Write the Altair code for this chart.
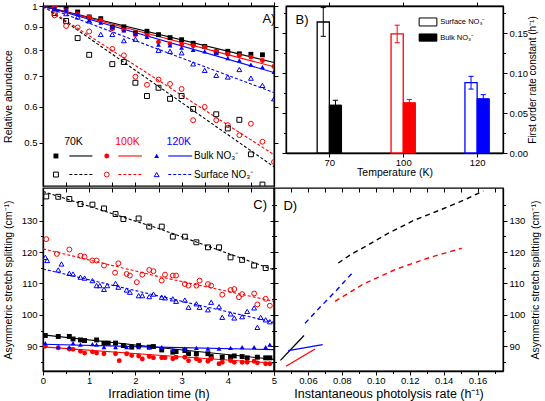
import altair as alt
import pandas as pd

TEMPS = ["70K", "100K", "120K"]
COLORS = ["#000000", "#ff0000", "#0000ff"]
SHAPES = ["square", "circle", "triangle-up"]
NO3 = "NO\u2083\u207b"
INV_H = "(h\u207b\u00b9)"

# ---------------- Panel A : relative abundance (log) vs irradiation time ----------------
A_T_BULK70 = [0.0, 0.25, 0.5, 0.75, 1.0, 1.25, 1.5, 1.75, 2.0, 2.25, 2.5, 2.75, 3.0, 3.25, 3.5, 3.75, 4.0, 4.25, 4.5, 4.75]
A_BULK70 = [1.0, 1.0, 0.995, 0.97, 0.946, 0.938, 0.898, 0.90, 0.872, 0.88, 0.865, 0.852, 0.843, 0.828, 0.815, 0.792, 0.795, 0.785, 0.783, 0.781]
A_T_BULK = [0.0, 0.25, 0.5, 0.75, 1.0, 1.25, 1.5, 1.75, 2.0, 2.25, 2.5, 2.75, 3.0, 3.25, 3.5, 3.75, 4.0, 4.25, 4.5, 4.75, 5.0]
A_BULK100 = [1.0, 0.995, 0.978, 0.96, 0.946, 0.93, 0.891, 0.885, 0.865, 0.862, 0.833, 0.826, 0.823, 0.818, 0.812, 0.795, 0.783, 0.779, 0.772, 0.759, 0.736]
A_BULK120 = [1.0, 0.99, 0.983, 0.962, 0.93, 0.919, 0.899, 0.884, 0.869, 0.855, 0.822, 0.819, 0.81, 0.801, 0.795, 0.788, 0.768, 0.759, 0.743, 0.734, 0.716]

A_T_SURF70 = [0.25, 0.5, 0.75, 1.0, 1.5, 1.75, 2.0, 2.25, 2.5, 2.75, 3.0, 3.25, 3.75, 4.0, 4.25, 4.5, 4.75]
A_SURF70 = [0.965, 0.927, 0.85, 0.781, 0.745, 0.753, 0.678, 0.634, 0.661, 0.625, 0.634, 0.594, 0.578, 0.538, 0.562, 0.472, 0.405]
A_T_SURF100 = [0.25, 0.5, 0.75, 1.0, 1.5, 1.75, 2.0, 2.25, 2.5, 2.75, 3.0, 3.25, 3.5, 3.75, 4.0, 4.25, 4.5, 4.75, 5.0]
A_SURF100 = [0.954, 0.904, 0.897, 0.879, 0.805, 0.779, 0.699, 0.671, 0.689, 0.674, 0.657, 0.561, 0.600, 0.561, 0.547, 0.520, 0.551, 0.503, 0.454]
A_T_SURF120 = [0.25, 0.5, 0.75, 1.0, 1.25, 1.5, 1.75, 2.0, 2.5, 2.75, 3.0, 3.25, 3.5, 3.75, 4.0, 4.25, 4.5, 4.75, 5.0]
A_SURF120 = [0.985, 0.962, 0.946, 0.927, 0.866, 0.866, 0.839, 0.845, 0.799, 0.795, 0.789, 0.746, 0.722, 0.704, 0.698, 0.725, 0.694, 0.669, 0.625]

A_FIT_T = [0.0, 5.0]
A_FIT_BULK = {"70K": [1.0, 0.751], "100K": [1.0, 0.735], "120K": [1.0, 0.714]}
A_FIT_SURF = {"70K": [1.0, 0.443], "100K": [1.0, 0.471], "120K": [1.0, 0.645]}

# legend / annotation positions for panel A (data units)
A_LABEL = ("A)", 4.75, 0.936)
A_HEAD_T = [0.66, 1.83, 2.94]
A_HEAD_V = 0.503
A_ROW_V = [0.468, 0.426]
A_MARK_T = [0.28, 1.38, 2.46]
A_LINE_T0 = [0.57, 1.63, 2.71]
A_LINE_T1 = [1.07, 2.14, 3.23]
A_TEXT_T = 3.27

# ---------------- Panel B : first order rate constants ----------------
B_TEMPS = [70, 100, 120]
B_SURF = [0.164, 0.149, 0.088]
B_SURF_ERR = [0.018, 0.011, 0.008]
B_BULK = [0.060, 0.063, 0.068]
B_BULK_ERR = [0.006, 0.004, 0.005]
B_LABEL = ("B)", -0.37, 0.167)
B_LEG_X = [1.215, 1.455, 1.50]
B_LEG_Y = [(0.159, 0.169, 0.164), (0.140, 0.149, 0.1445)]

# ---------------- Panel C : splitting vs irradiation time ----------------
C_T_SURF70 = [0.07, 0.33, 0.57, 0.81, 1.07, 1.32, 1.57, 1.74, 2.07, 2.30, 2.57, 2.81, 3.07, 3.32, 3.57, 3.81, 4.06, 4.31, 4.57, 4.82]
C_SURF70 = [137.7, 137.6, 136.9, 135.3, 135.1, 133.9, 132.1, 130.5, 130.7, 128.1, 128.1, 124.9, 124.9, 123.1, 121.5, 121.5, 118.3, 117.5, 115.7, 114.9]
C_T_SURF100 = [0.07, 0.30, 0.57, 0.81, 0.90, 1.07, 1.16, 1.32, 1.56, 1.63, 1.81, 1.88, 2.03, 2.15, 2.30, 2.39, 2.57, 2.64, 2.81, 2.88,
               3.07, 3.15, 3.32, 3.39, 3.57, 3.64, 3.88, 4.06, 4.14, 4.24, 4.31, 4.57, 4.64, 4.82, 4.91]
C_SURF100 = [124.1, 119.4, 120.8, 118.8, 118.5, 117.3, 117.3, 115.7, 113.4, 116.4, 113.0, 112.5, 110.4, 112.8, 114.3, 113.9, 110.9, 112.8, 112.5, 112.5,
             109.8, 109.3, 109.3, 110.9, 109.8, 109.3, 106.4, 107.9, 108.2, 105.6, 106.6, 106.8, 103.3, 105.1, 102.9]
C_T_SURF120 = [0.05, 0.09, 0.33, 0.40, 0.57, 0.65, 0.81, 0.90, 1.07, 1.16, 1.23, 1.32, 1.39, 1.57, 1.63, 1.81, 1.88, 2.07, 2.15, 2.30, 2.39,
               2.57, 2.64, 2.81, 2.88, 3.07, 3.15, 3.32, 3.39, 3.57, 3.64, 3.81, 3.88, 4.06, 4.14, 4.31, 4.42, 4.57, 4.64, 4.71, 4.82, 4.91]
C_SURF120 = [118.3, 117.3, 114.3, 116.2, 113.2, 113.0, 112.0, 111.7, 110.9, 109.3, 109.3, 108.1, 109.3, 110.0, 108.8, 107.9, 107.2, 106.1, 106.1, 105.8, 106.6,
             105.6, 105.4, 105.1, 104.3, 104.7, 102.4, 103.5, 102.4, 101.6, 104.0, 102.6, 99.2, 100.3, 99.0, 99.4, 101.1, 102.2, 96.0, 99.2, 98.4, 97.8]
C_T_BULK70 = [0.05, 0.33, 0.57, 0.65, 0.81, 0.90, 1.16, 1.32, 1.41, 1.57, 1.74, 1.92, 2.07, 2.30, 2.39, 2.57, 2.81, 2.88, 3.07, 3.15,
              3.32, 3.57, 3.64, 3.88, 4.06, 4.14, 4.31, 4.42, 4.64, 4.82, 4.91]
C_BULK70 = [93.4, 93.1, 93.1, 92.3, 92.0, 91.8, 92.0, 91.0, 91.0, 91.0, 90.2, 89.7, 90.2, 89.7, 89.9, 88.8, 88.1, 88.3, 88.6, 87.6,
            87.6, 87.6, 86.7, 86.5, 86.5, 86.9, 86.7, 86.3, 86.5, 86.3, 86.3]
C_T_BULK100 = [0.05, 0.33, 0.57, 0.65, 0.81, 0.90, 1.07, 1.16, 1.32, 1.57, 1.65, 1.81, 1.92, 2.07, 2.15, 2.30, 2.39, 2.57, 2.64, 2.81,
               2.88, 3.07, 3.15, 3.32, 3.39, 3.57, 3.64, 3.81, 3.88, 4.06, 4.14, 4.31, 4.42, 4.57, 4.64, 4.82, 4.91]
C_BULK100 = [90.0, 89.5, 89.1, 89.0, 88.4, 87.8, 88.2, 87.8, 87.6, 87.6, 85.4, 87.6, 87.0, 86.9, 85.9, 86.7, 86.3, 86.3, 86.3, 86.0,
             86.5, 86.5, 85.4, 86.0, 85.4, 85.2, 86.0, 84.4, 84.9, 85.4, 84.9, 84.9, 84.9, 85.2, 84.7, 84.4, 84.4]
C_T_BULK120 = [0.05, 0.33, 0.57, 0.65, 0.81, 1.07, 1.16, 1.32, 1.57, 1.81, 2.07, 2.30, 2.57, 2.81, 3.07, 3.32, 3.57, 3.81, 4.06, 4.31,
               4.57, 4.82, 4.91]
C_BULK120 = [91.0, 89.7, 89.7, 91.0, 90.5, 90.7, 90.5, 89.7, 89.7, 89.7, 89.7, 89.7, 89.7, 88.8, 89.2, 89.5, 89.2, 89.2, 89.5, 89.7,
             89.7, 89.7, 90.5]

C_FIT_T = [0.0, 2.5, 5.0]
C_FIT_SURF = {"70K": [139.3, 127.5, 114.3], "100K": [121.0, 112.2, 104.3], "120K": [114.6, 106.0, 97.6]}
C_FIT_BULK = {"70K": [93.6, 89.6, 85.8], "100K": [89.8, 87.1, 84.6], "120K": [90.6, 89.7, 88.9]}
C_LABEL = ("C)", 4.70, 135.1)

# ---------------- Panel D : splitting vs instantaneous photolysis rate ----------------
D_SURF = {
    "70K": ([0.0779, 0.0858, 0.0947, 0.1064, 0.1221, 0.1379, 0.1536, 0.1634],
            [116.5, 119.4, 122.0, 125.7, 130.0, 133.4, 136.9, 139.5]),
    "100K": ([0.0760, 0.0927, 0.1123, 0.1320, 0.1507], [104.3, 109.8, 114.6, 118.3, 121.2]),
    "120K": ([0.0583, 0.0671, 0.0770, 0.0864], [97.3, 102.4, 107.9, 113.5]),
}
D_BULK = {
    "70K": ([0.0438, 0.0577], [85.5, 93.4]),
    "100K": ([0.0471, 0.0560, 0.0642], [83.6, 86.5, 89.1]),
    "120K": ([0.0484, 0.0687], [88.6, 90.5]),
}
D_LABEL = ("D)", 0.0496, 134.8)

# ---------------- helpers ----------------
COLOR = alt.Color("temp:N", scale=alt.Scale(domain=TEMPS, range=COLORS), legend=None)
SHAPE = alt.Shape("temp:N", scale=alt.Scale(domain=TEMPS, range=SHAPES), legend=None)
STROKE = alt.Stroke("temp:N", scale=alt.Scale(domain=TEMPS, range=COLORS), legend=None)
FILL = alt.Fill("temp:N", scale=alt.Scale(domain=TEMPS, range=COLORS), legend=None)


def long_df(items, xname="t"):
    frames = [pd.DataFrame({xname: xs, "v": vs, "temp": temp}) for temp, xs, vs in items]
    return pd.concat(frames, ignore_index=True)


def axis(orient, values, labels=True, label_expr=None, title=None, major=None, **kw):
    a = dict(orient=orient, values=values, title=title, labelFlush=False,
             labelOverlap=False, labelBound=False, tickSize=4, labelPadding=2)
    if not labels:
        a["labels"] = False
    if label_expr is not None:
        a["labelExpr"] = label_expr
    if major is not None:
        a["tickSize"] = {"condition": {"test": major, "value": 4}, "value": 2.5}
    a.update(kw)
    return alt.Axis(**a)


def inner_axis(orient, values):
    # ticks drawn just inside the frame (axis shifted inward, frame drawn by the view stroke)
    return alt.Axis(orient=orient, values=values, title=None, labels=False, domain=False,
                    tickSize=4, offset=-4)


# ================= Panel A =================
A_SX = alt.Scale(domain=[0, 5], nice=False, zero=False)
A_SY = alt.Scale(type="log", domain=[0.402, 1.0], nice=False)
A_XT = [0, 0.5, 1, 1.5, 2, 2.5, 3, 3.5, 4, 4.5, 5]
A_YT = [0.5, 0.6, 0.7, 0.8, 0.9, 1.0]
ax_x = alt.X("t:Q", scale=A_SX, axis=inner_axis("bottom", A_XT))
ax_y = alt.Y("v:Q", scale=A_SY, axis=axis(
    "left", A_YT, label_expr="datum.value > 0.99 ? '1' : format(datum.value, '.1f')",
    title="Relative abundance", titleFontSize=10.5, minExtent=24, maxExtent=24, titlePadding=6))

a_bulk = long_df([("70K", A_T_BULK70, A_BULK70), ("100K", A_T_BULK, A_BULK100), ("120K", A_T_BULK, A_BULK120)])
a_surf = long_df([("70K", A_T_SURF70, A_SURF70), ("100K", A_T_SURF100, A_SURF100), ("120K", A_T_SURF120, A_SURF120)])
a_fit_b = long_df([(k, A_FIT_T, v) for k, v in A_FIT_BULK.items()])
a_fit_s = long_df([(k, A_FIT_T, v) for k, v in A_FIT_SURF.items()])

a_head = pd.DataFrame({"t": A_HEAD_T, "v": [A_HEAD_V] * 3, "temp": TEMPS, "label": TEMPS})
a_mk_b = pd.DataFrame({"t": A_MARK_T, "v": [A_ROW_V[0]] * 3, "temp": TEMPS})
a_mk_s = pd.DataFrame({"t": A_MARK_T, "v": [A_ROW_V[1]] * 3, "temp": TEMPS})
a_ln_b = pd.DataFrame({"t": A_LINE_T0, "t1": A_LINE_T1, "v": [A_ROW_V[0]] * 3, "temp": TEMPS})
a_ln_s = pd.DataFrame({"t": A_LINE_T0, "t1": A_LINE_T1, "v": [A_ROW_V[1]] * 3, "temp": TEMPS})
a_txt = pd.DataFrame({"t": [A_TEXT_T, A_TEXT_T, A_LABEL[1]], "v": [A_ROW_V[0], A_ROW_V[1], A_LABEL[2]],
                      "label": ["Bulk " + NO3, "Surface " + NO3, A_LABEL[0]], "size": [10, 10, 13]})

a_layers = [
    alt.Chart(a_fit_b).mark_line(strokeWidth=1.1, clip=True).encode(x=ax_x, y=ax_y, color=COLOR),
    alt.Chart(a_fit_s).mark_line(strokeWidth=1.1, strokeDash=[3, 2], clip=True).encode(x=ax_x, y=ax_y, color=COLOR),
    alt.Chart(a_bulk).mark_point(filled=True, size=24, opacity=1, clip=True).encode(x=ax_x, y=ax_y, color=COLOR, shape=SHAPE),
    alt.Chart(a_surf).mark_point(filled=False, size=24, strokeWidth=1, opacity=1, clip=True).encode(x=ax_x, y=ax_y, color=COLOR, shape=SHAPE),
    alt.Chart(a_head).mark_text(fontSize=10.5).encode(x=ax_x, y=ax_y, text="label:N", color=COLOR),
    alt.Chart(a_mk_b).mark_point(filled=True, size=24, opacity=1).encode(x=ax_x, y=ax_y, color=COLOR, shape=SHAPE),
    alt.Chart(a_mk_s).mark_point(filled=False, size=24, strokeWidth=1, opacity=1).encode(x=ax_x, y=ax_y, color=COLOR, shape=SHAPE),
    alt.Chart(a_ln_b).mark_rule(strokeWidth=1.1).encode(x=ax_x, x2="t1:Q", y=ax_y, color=COLOR),
    alt.Chart(a_ln_s).mark_rule(strokeWidth=1.1, strokeDash=[3, 2]).encode(x=ax_x, x2="t1:Q", y=ax_y, color=COLOR),
    alt.Chart(a_txt).mark_text(align="left", color="black").encode(
        x=ax_x, y=ax_y, text="label:N", size=alt.Size("size:Q", scale=None)),
]
a_mirror = alt.Chart(a_bulk).mark_point(opacity=0).encode(
    x=alt.X("t:Q", scale=A_SX, axis=axis("top", A_XT, labels=False)),
    y=alt.Y("v:Q", scale=A_SY, axis=axis("right", A_YT, labels=False)))
panelA = alt.layer(alt.layer(*a_layers), a_mirror).resolve_axis(
    x="independent", y="independent").properties(width=231, height=180)

# ================= Panel B =================
W = 0.165
CAP = 0.035
B_SX = alt.Scale(domain=[-0.587, 2.35], nice=False, zero=False)
B_SY = alt.Scale(domain=[0, 0.184], nice=False, zero=False)
B_XT = [0, 1, 2]
B_YT = [0, 0.025, 0.05, 0.075, 0.1, 0.125, 0.15, 0.175]
B_MAJOR = "abs(datum.value * 20 - round(datum.value * 20)) < 0.001"
b_xlab = "datum.value < 0.5 ? '%d' : datum.value < 1.5 ? '%d' : '%d'" % tuple(B_TEMPS)
bx = alt.X("x:Q", scale=B_SX, axis=axis("bottom", B_XT, label_expr=b_xlab, title="Temperature (K)",
                                         titleFontSize=10.5, titlePadding=1, labelPadding=0))
by = alt.Y("y:Q", scale=B_SY, axis=axis("right", B_YT, major=B_MAJOR,
                                         label_expr=B_MAJOR + " ? format(datum.value, '.2f') : ''",
                                         title="First order rate constant " + INV_H, titleFontSize=10,
                                         titleAngle=270, titleBaseline="top", minExtent=22, maxExtent=22,
                                         titlePadding=2))

surf_rows, bulk_rows, err_rows, cap_rows = [], [], [], []
for i, T in enumerate(B_TEMPS):
    lab = f"{T}K"
    surf_rows.append(dict(x=i - W, x2=i, y=0.0, y2=B_SURF[i], temp=lab))
    bulk_rows.append(dict(x=i, x2=i + W, y=0.0, y2=B_BULK[i], temp=lab))
    for cxv, val, err in [(i - W / 2, B_SURF[i], B_SURF_ERR[i]), (i + W / 2, B_BULK[i], B_BULK_ERR[i])]:
        err_rows.append(dict(x=cxv, y=val - err, y2=val + err, temp=lab))
        cap_rows.append(dict(x=cxv - CAP, x2=cxv + CAP, y=val - err, temp=lab))
        cap_rows.append(dict(x=cxv - CAP, x2=cxv + CAP, y=val + err, temp=lab))
b_surf = pd.DataFrame(surf_rows)
b_bulk = pd.DataFrame(bulk_rows)
b_err = pd.DataFrame(err_rows)
b_cap = pd.DataFrame(cap_rows)
b_leg = pd.DataFrame({"x": [B_LEG_X[0]] * 2, "x2": [B_LEG_X[1]] * 2,
                      "y": [B_LEG_Y[0][0], B_LEG_Y[1][0]], "y2": [B_LEG_Y[0][1], B_LEG_Y[1][1]],
                      "fill": ["white", "black"]})
b_txt = pd.DataFrame({"x": [B_LEG_X[2]] * 2, "y": [B_LEG_Y[0][2], B_LEG_Y[1][2]],
                      "label": ["Surface " + NO3, "Bulk " + NO3]})
b_lab = pd.DataFrame({"x": [B_LABEL[1]], "y": [B_LABEL[2]], "label": [B_LABEL[0]]})

b_layers = [
    alt.Chart(b_surf).mark_rect(fill="white", strokeWidth=1.3).encode(x=bx, x2="x2:Q", y=by, y2="y2:Q", stroke=STROKE),
    alt.Chart(b_bulk).mark_rect(strokeWidth=1).encode(x=bx, x2="x2:Q", y=by, y2="y2:Q", fill=FILL, stroke=STROKE),
    alt.Chart(b_err).mark_rule(strokeWidth=1).encode(x=bx, y=by, y2="y2:Q", color=COLOR),
    alt.Chart(b_cap).mark_rule(strokeWidth=1).encode(x=bx, x2="x2:Q", y=by, color=COLOR),
    alt.Chart(b_leg).mark_rect(stroke="black", strokeWidth=1).encode(
        x=bx, x2="x2:Q", y=by, y2="y2:Q", fill=alt.Fill("fill:N", scale=None)),
    alt.Chart(b_txt).mark_text(align="left", fontSize=7.5, color="black").encode(x=bx, y=by, text="label:N"),
    alt.Chart(b_lab).mark_text(fontSize=13, color="black").encode(x=bx, y=by, text="label:N"),
]
b_mirror = alt.Chart(b_surf).mark_point(opacity=0).encode(
    x=alt.X("x:Q", scale=B_SX, axis=axis("top", B_XT, labels=False)),
    y=alt.Y("y:Q", scale=B_SY, axis=axis("left", B_YT, labels=False, major=B_MAJOR)))
panelB = alt.layer(alt.layer(*b_layers), b_mirror).resolve_axis(
    x="independent", y="independent").properties(width=217, height=147)

# ================= Panel C =================
C_SX = alt.Scale(domain=[0, 5], nice=False, zero=False)
C_SY = alt.Scale(domain=[82.1, 140.4], nice=False, zero=False)
C_XT = [0, 0.5, 1, 1.5, 2, 2.5, 3, 3.5, 4, 4.5, 5]
C_YT = [85, 90, 95, 100, 105, 110, 115, 120, 125, 130, 135]
C_XMAJ = "datum.value % 1 === 0"
C_YMAJ = "datum.value % 10 === 0"
C_YLAB = "datum.value % 10 === 0 ? format(datum.value, 'd') : ''"
SPLIT_TITLE = "Asymmetric stretch splitting (cm\u207b\u00b9)"
cx = alt.X("t:Q", scale=C_SX, axis=axis("bottom", C_XT, major=C_XMAJ,
                                         label_expr=C_XMAJ + " ? format(datum.value, 'd') : ''",
                                         title="Irradiation time (h)", titleFontSize=12.5, titlePadding=3,
                                         labelPadding=0))
cy = alt.Y("v:Q", scale=C_SY, axis=axis("left", C_YT, major=C_YMAJ, label_expr=C_YLAB,
                                         title=SPLIT_TITLE, titleFontSize=10.5, minExtent=24, maxExtent=24,
                                         titlePadding=6))
c_bulk = long_df([("70K", C_T_BULK70, C_BULK70), ("100K", C_T_BULK100, C_BULK100), ("120K", C_T_BULK120, C_BULK120)])
c_surf = long_df([("70K", C_T_SURF70, C_SURF70), ("100K", C_T_SURF100, C_SURF100), ("120K", C_T_SURF120, C_SURF120)])
c_fit_b = long_df([(k, C_FIT_T, v) for k, v in C_FIT_BULK.items()])
c_fit_s = long_df([(k, C_FIT_T, v) for k, v in C_FIT_SURF.items()])
c_lab = pd.DataFrame({"t": [C_LABEL[1]], "v": [C_LABEL[2]], "label": [C_LABEL[0]]})

c_layers = [
    alt.Chart(c_fit_b).mark_line(strokeWidth=1.1, clip=True).encode(x=cx, y=cy, color=COLOR),
    alt.Chart(c_fit_s).mark_line(strokeWidth=1.1, strokeDash=[3, 2], clip=True).encode(x=cx, y=cy, color=COLOR),
    alt.Chart(c_surf).mark_point(filled=False, size=24, strokeWidth=1, opacity=1, clip=True).encode(x=cx, y=cy, color=COLOR, shape=SHAPE),
    alt.Chart(c_bulk).mark_point(filled=True, size=24, opacity=1, clip=True).encode(x=cx, y=cy, color=COLOR, shape=SHAPE),
    alt.Chart(c_lab).mark_text(fontSize=13, color="black").encode(x=cx, y=cy, text="label:N"),
]
c_mirror = alt.Chart(c_bulk).mark_point(opacity=0).encode(
    x=alt.X("t:Q", scale=C_SX, axis=inner_axis("top", C_XT)),
    y=alt.Y("v:Q", scale=C_SY, axis=axis("right", C_YT, labels=False, major=C_YMAJ)))
panelC = alt.layer(alt.layer(*c_layers), c_mirror).resolve_axis(
    x="independent", y="independent").properties(width=231, height=183)

# ================= Panel D =================
D_SX = alt.Scale(domain=[0.04, 0.175], nice=False, zero=False)
D_XT = [0.04, 0.05, 0.06, 0.07, 0.08, 0.09, 0.10, 0.11, 0.12, 0.13, 0.14, 0.15, 0.16, 0.17]
D_XMAJ = "round(datum.value * 100) % 2 === 0"
dx = alt.X("r:Q", scale=D_SX, axis=axis("bottom", D_XT, major=D_XMAJ,
                                         label_expr="(" + D_XMAJ + " && datum.value > 0.05) ? format(datum.value, '.2f') : ''",
                                         title="Instantaneous photolysis rate " + INV_H, titleFontSize=12.5,
                                         titlePadding=3, labelPadding=0))
dy = alt.Y("v:Q", scale=C_SY, axis=axis("right", C_YT, major=C_YMAJ, label_expr=C_YLAB,
                                         title=SPLIT_TITLE, titleFontSize=10.5, titleAngle=270,
                                         titleBaseline="top", minExtent=22, maxExtent=22, titlePadding=5))
d_surf = long_df([(k, v[0], v[1]) for k, v in D_SURF.items()], xname="r")
d_bulk = long_df([(k, v[0], v[1]) for k, v in D_BULK.items()], xname="r")
d_lab = pd.DataFrame({"r": [D_LABEL[1]], "v": [D_LABEL[2]], "label": [D_LABEL[0]]})
d_layers = [
    alt.Chart(d_surf).mark_line(strokeWidth=1.4, strokeDash=[5, 4]).encode(x=dx, y=dy, color=COLOR),
    alt.Chart(d_bulk).mark_line(strokeWidth=1.3).encode(x=dx, y=dy, color=COLOR),
    alt.Chart(d_lab).mark_text(fontSize=13, color="black").encode(x=dx, y=dy, text="label:N"),
]
d_mirror = alt.Chart(d_bulk).mark_point(opacity=0).encode(
    x=alt.X("r:Q", scale=D_SX, axis=inner_axis("top", D_XT)),
    y=alt.Y("v:Q", scale=C_SY, axis=axis("left", C_YT, labels=False, major=C_YMAJ)))
panelD = alt.layer(alt.layer(*d_layers), d_mirror).resolve_axis(
    x="independent", y="independent").properties(width=229, height=183)

# ================= Layout =================
top = alt.hconcat(panelA, panelB, spacing=12, bounds="flush")
bottom = alt.hconcat(panelC, panelD, spacing=0, bounds="flush")
chart = alt.vconcat(top, bottom, spacing=-7).properties(
    padding={"left": 2, "top": 0, "right": 3, "bottom": 0}, background="white"
).configure(font="Liberation Sans").configure_axis(
    grid=False, domainColor="black", domainWidth=1.3, tickColor="black", tickWidth=1,
    labelColor="black", titleColor="black", titleFontWeight="normal", labelFontSize=9.5
).configure_view(stroke="black", strokeWidth=1.3)

chart.save("out.html", embed_options={"renderer": "svg", "actions": False})
